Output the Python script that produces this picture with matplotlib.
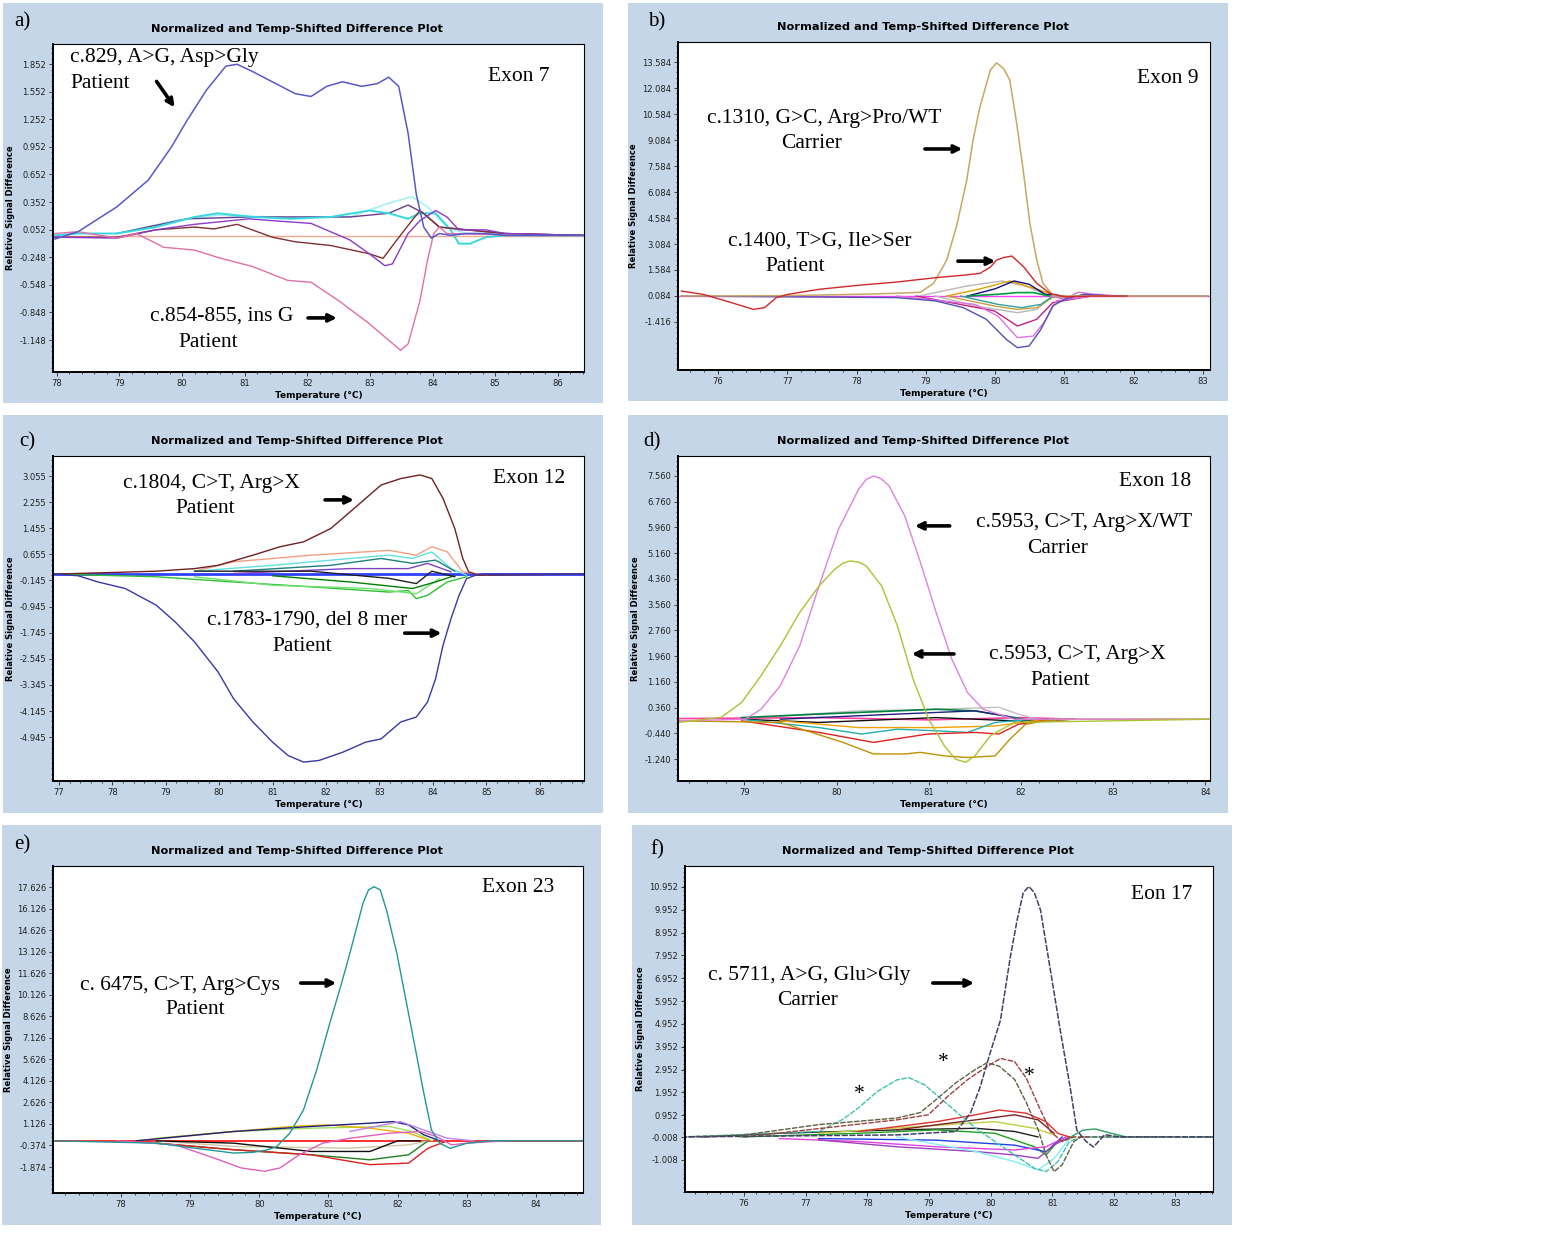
import matplotlib
matplotlib.use("Agg")
import matplotlib.pyplot as plt
from matplotlib.patches import Rectangle
from matplotlib.ticker import AutoMinorLocator

# ---------------- panel a : exon 7 ----------------
a_xticks = [78, 79, 80, 81, 82, 83, 84, 85, 86]
a_yticks = ["1.852", "1.552", "1.252", "0.952", "0.652", "0.352", "0.052",
            "-0.248", "-0.548", "-0.848", "-1.148"]
a_gly_t = [77.97, 78.34, 78.96, 79.46, 79.83, 80.08, 80.39, 80.70, 80.88, 81.13, 81.44, 81.81,
           82.06, 82.31, 82.56, 82.87, 83.12, 83.30, 83.46, 83.61, 83.74, 83.86, 83.98, 84.11,
           84.29, 84.54, 84.85, 85.16, 86.40]
a_gly_v = [-0.05, 0.03, 0.30, 0.59, 0.95, 1.24, 1.57, 1.83, 1.85, 1.77, 1.66, 1.53, 1.50, 1.61,
           1.66, 1.61, 1.64, 1.71, 1.61, 1.10, 0.44, 0.08, -0.04, 0.01, -0.01, 0.01, 0.01,
           -0.01, -0.01]
a_ins_t = [77.97, 78.34, 78.96, 79.27, 79.71, 80.20, 80.57, 81.13, 81.69, 82.06, 82.50, 82.99,
           83.30, 83.49, 83.61, 83.80, 83.92, 84.02, 84.11, 84.23, 85.47]
a_ins_v = [0.01, 0.03, -0.04, 0.01, -0.14, -0.17, -0.25, -0.35, -0.50, -0.52, -0.72, -0.97,
           -1.15, -1.26, -1.19, -0.72, -0.28, 0.01, 0.08, 0.01, -0.01]
a_brown_t = [77.97, 78.96, 79.58, 80.20, 80.51, 80.88, 81.44, 81.81, 82.37, 82.99, 83.21, 83.43,
             83.67, 83.80, 83.92, 84.11, 84.54, 85.16, 86.40]
a_brown_v = [-0.03, -0.03, 0.05, 0.08, 0.06, 0.11, -0.03, -0.08, -0.12, -0.21, -0.26, -0.06,
             0.15, 0.26, 0.19, 0.08, 0.05, 0.01, -0.01]
a_violet_t = [77.97, 78.96, 79.58, 80.20, 81.07, 81.44, 82.06, 82.68, 82.99, 83.24, 83.36, 83.61,
              83.80, 84.05, 84.23, 84.42, 84.85, 85.16, 86.40]
a_violet_v = [-0.03, -0.04, 0.05, 0.11, 0.17, 0.15, 0.12, -0.06, -0.21, -0.34, -0.32, 0.01,
              0.15, 0.26, 0.19, 0.05, 0.05, 0.01, -0.01]
a_cyan_t = [77.97, 78.34, 78.96, 79.58, 80.20, 80.57, 81.13, 81.75, 82.37, 82.99, 83.30, 83.61,
            83.80, 84.05, 84.29, 84.42, 84.60, 84.85, 85.16, 86.40]
a_cyan_v = [-0.01, 0.01, 0.01, 0.08, 0.19, 0.23, 0.19, 0.17, 0.19, 0.26, 0.23, 0.17, 0.23, 0.23,
            0.05, -0.10, -0.10, -0.03, -0.01, -0.01]
a_lcyan_t = [78.96, 79.89, 80.57, 81.44, 82.68, 83.30, 83.67, 83.92, 84.23, 84.54, 86.40]
a_lcyan_v = [0.01, 0.15, 0.21, 0.19, 0.19, 0.34, 0.41, 0.30, 0.08, 0.01, -0.01]
a_plum_t = [78.96, 80.08, 81.07, 82.68, 83.30, 83.61, 83.86, 84.11, 85.16, 86.40]
a_plum_v = [0.01, 0.17, 0.19, 0.19, 0.23, 0.32, 0.23, 0.08, 0.01, -0.01]
a_flat_t = [77.94, 86.42]
a_flat_v = [-0.02, -0.02]

# ---------------- panel b : exon 9 ----------------
b_xticks = [76, 77, 78, 79, 80, 81, 82, 83]
b_yticks = ["13.584", "12.084", "10.584", "9.084", "7.584", "6.084", "4.584", "3.084",
            "1.584", "0.084", "-1.416"]
b_pro_t = [75.47, 76.90, 78.02, 78.58, 78.92, 79.11, 79.30, 79.44, 79.59, 79.68, 79.78, 79.93,
           80.02, 80.12, 80.21, 80.31, 80.41, 80.50, 80.60, 80.69, 80.84, 81.00, 81.95, 83.07]
b_pro_v = [0.08, 0.10, 0.18, 0.24, 0.30, 0.81, 2.16, 4.08, 6.78, 9.08, 11.00, 13.12, 13.54,
           13.22, 12.55, 10.05, 7.16, 4.28, 2.16, 0.81, 0.10, 0.08, 0.08, 0.08]
b_ser_t = [75.47, 75.78, 76.11, 76.51, 76.67, 76.84, 77.01, 77.46, 78.02, 78.58, 79.14, 79.59,
           79.78, 79.93, 80.02, 80.12, 80.24, 80.41, 80.60, 80.79, 81.00, 81.39, 81.90]
b_ser_v = [0.37, 0.18, -0.20, -0.69, -0.59, -0.01, 0.18, 0.47, 0.70, 0.89, 1.14, 1.30,
           1.39, 1.75, 2.16, 2.30, 2.39, 1.77, 0.81, 0.24, 0.03, 0.08, 0.08]
b_blue_t = [75.47, 78.58, 79.14, 79.54, 79.87, 80.16, 80.32, 80.49, 80.66, 80.83, 81.00, 81.28,
            81.67, 83.07]
b_blue_v = [0.08, -0.01, -0.20, -0.59, -1.26, -2.42, -2.90, -2.80, -1.84, -0.49, -0.11, 0.18,
            0.08, 0.08]
b_pink_t = [78.58, 79.71, 80.04, 80.32, 80.55, 80.72, 80.88, 81.39]
b_pink_v = [0.08, -0.40, -1.08, -2.32, -2.23, -1.36, -0.20, 0.08]
b_mag_t = [78.86, 79.99, 80.32, 80.60, 80.83, 81.39]
b_mag_v = [0.08, -0.78, -1.65, -1.26, -0.30, 0.08]
b_graylo_t = [79.14, 79.71, 80.32, 80.60, 80.83, 81.20]
b_graylo_v = [0.08, -0.49, -0.88, -0.69, 0.08, 0.08]
b_grayhi_t = [78.90, 79.59, 80.10, 80.44, 80.72, 81.00]
b_grayhi_v = [0.08, 0.66, 0.95, 0.66, 0.18, 0.08]
b_goldlo_t = [79.30, 80.00, 80.32, 80.60, 80.83, 81.20]
b_goldlo_v = [0.08, -0.50, -0.69, -0.59, 0.00, 0.08]
b_goldhi_t = [79.30, 79.76, 80.21, 80.60, 80.90]
b_goldhi_v = [0.08, 0.47, 0.95, 0.47, 0.08]
b_teal_t = [79.50, 80.04, 80.38, 80.66, 80.83]
b_teal_v = [0.08, -0.40, -0.59, -0.40, 0.08]
b_navy_t = [79.60, 80.00, 80.27, 80.49, 80.72, 81.00]
b_navy_v = [0.08, 0.50, 0.95, 0.76, 0.18, 0.08]
b_green_t = [79.60, 80.10, 80.32, 80.55, 80.78]
b_green_v = [0.08, 0.20, 0.28, 0.28, 0.08]
b_violet_t = [80.80, 81.00, 81.20, 81.40, 81.80]
b_violet_v = [0.08, -0.10, 0.30, 0.20, 0.08]
b_base_t = [75.42, 83.10]
b_base_v = [0.084, 0.084]

# ---------------- panel c : exon 12 ----------------
c_xticks = [77, 78, 79, 80, 81, 82, 83, 84, 85, 86]
c_yticks = ["3.055", "2.255", "1.455", "0.655", "-0.145", "-0.945", "-1.745", "-2.545",
            "-3.345", "-4.145", "-4.945"]
c_del_t = [76.93, 77.36, 77.73, 78.24, 78.82, 79.18, 79.54, 79.98, 80.27, 80.63, 81.00, 81.29,
           81.58, 81.87, 82.31, 82.74, 83.03, 83.40, 83.69, 83.90, 84.05, 84.19, 84.34, 84.49,
           84.63, 84.85, 86.81]
c_del_v = [0.05, 0.00, -0.19, -0.39, -0.90, -1.42, -2.03, -2.95, -3.77, -4.48, -5.10, -5.51,
           -5.71, -5.66, -5.41, -5.10, -5.00, -4.48, -4.33, -3.87, -3.16, -2.13, -1.31, -0.60,
           -0.09, 0.05, 0.05]
c_argx_t = [76.93, 78.82, 79.54, 79.98, 80.63, 81.14, 81.58, 82.09, 82.60, 83.03, 83.40, 83.76,
            83.98, 84.19, 84.41, 84.56, 84.67, 84.85, 86.81]
c_argx_v = [0.05, 0.14, 0.22, 0.32, 0.63, 0.89, 1.04, 1.45, 2.17, 2.78, 2.98, 3.09, 2.98, 2.37,
            1.45, 0.53, 0.12, 0.02, 0.05]
c_salmon_t = [79.54, 80.27, 81.72, 83.18, 83.69, 83.98, 84.27, 84.56, 85.00]
c_salmon_v = [0.14, 0.43, 0.63, 0.78, 0.63, 0.89, 0.73, 0.12, 0.02]
c_cyan_t = [79.54, 81.00, 82.45, 83.18, 83.62, 83.98, 84.34, 84.63]
c_cyan_v = [0.14, 0.32, 0.53, 0.63, 0.53, 0.73, 0.22, 0.02]
c_teal_t = [80.27, 82.09, 83.03, 83.62, 84.05, 84.41]
c_teal_v = [0.14, 0.32, 0.53, 0.38, 0.48, 0.14]
c_purple_t = [80.27, 82.45, 83.54, 83.90, 84.34]
c_purple_v = [0.07, 0.22, 0.22, 0.38, 0.12]
c_green1_t = [76.93, 78.82, 80.27, 81.72, 83.18, 83.54, 83.69, 83.90, 84.27, 84.63]
c_green1_v = [0.05, -0.03, -0.19, -0.34, -0.50, -0.45, -0.70, -0.60, -0.19, -0.03]
c_green2_t = [79.54, 81.00, 82.82, 83.69, 84.12]
c_green2_v = [-0.03, -0.29, -0.39, -0.55, -0.09]
c_dkgreen_t = [81.00, 82.45, 83.62, 84.05, 84.40]
c_dkgreen_v = [0.00, -0.19, -0.39, -0.19, 0.00]
c_black_t = [79.54, 81.72, 83.18, 83.69, 83.98, 84.41]
c_black_v = [0.14, 0.14, -0.08, -0.24, 0.14, -0.03]
c_base_t = [76.89, 86.83]
c_base_v = [0.05, 0.05]

# ---------------- panel d : exon 18 ----------------
d_xticks = [79, 80, 81, 82, 83, 84]
d_yticks = ["7.560", "6.760", "5.960", "5.160", "4.360", "3.560", "2.760", "1.960", "1.160",
            "0.360", "-0.440", "-1.240"]
d_wt_t = [78.29, 79.01, 79.18, 79.39, 79.60, 79.81, 80.02, 80.24, 80.32, 80.40, 80.48, 80.57,
          80.74, 80.91, 81.08, 81.25, 81.42, 81.59, 81.93, 84.05]
d_wt_v = [-0.05, 0.00, 0.31, 1.04, 2.28, 4.14, 5.90, 7.15, 7.45, 7.56, 7.48, 7.25, 6.32, 4.87,
          3.32, 1.87, 0.83, 0.31, 0.00, 0.00]
d_pat_t = [78.29, 78.75, 78.97, 79.18, 79.39, 79.60, 79.81, 79.98, 80.07, 80.15, 80.24, 80.32,
           80.49, 80.66, 80.83, 81.00, 81.17, 81.29, 81.40, 81.50, 81.67, 81.93, 84.05]
d_pat_v = [-0.10, 0.06, 0.52, 1.35, 2.28, 3.32, 4.14, 4.66, 4.85, 4.92, 4.88, 4.77, 4.14, 2.90,
           1.25, 0.00, -0.83, -1.24, -1.34, -1.14, -0.51, -0.10, 0.00]
d_gold_t = [78.29, 79.39, 80.07, 80.40, 80.74, 80.91, 81.17, 81.42, 81.72, 81.88, 82.05, 82.35,
            84.05]
d_gold_v = [-0.05, -0.10, -0.72, -1.08, -1.08, -1.03, -1.14, -1.19, -1.14, -0.62, -0.16, 0.00,
            0.00]
d_red_t = [78.97, 79.81, 80.40, 80.99, 81.50, 81.76, 81.97, 82.35]
d_red_v = [-0.05, -0.41, -0.72, -0.46, -0.41, -0.46, -0.16, 0.00]
d_cyan_t = [78.97, 79.81, 80.27, 80.66, 81.08, 81.42, 81.72, 82.14]
d_cyan_v = [0.00, -0.26, -0.46, -0.31, -0.36, -0.41, -0.10, 0.00]
d_orange_t = [79.39, 80.24, 81.08, 81.72, 82.14, 82.60]
d_orange_v = [-0.05, -0.26, -0.26, -0.21, -0.05, 0.00]
d_gray_t = [79.39, 80.24, 81.08, 81.76, 81.97, 82.18, 82.60]
d_gray_v = [0.10, 0.26, 0.31, 0.37, 0.16, 0.00, 0.00]
d_green_t = [78.97, 79.81, 81.08, 81.50, 81.93, 82.14]
d_green_v = [0.05, 0.16, 0.31, 0.26, 0.05, -0.05]
d_black_t = [78.97, 79.81, 81.08, 81.93, 82.30]
d_black_v = [0.00, -0.10, 0.05, -0.05, 0.00]
d_navy_t = [79.39, 80.66, 81.50, 81.84, 82.05, 82.56]
d_navy_v = [0.00, 0.16, 0.26, 0.10, -0.10, 0.00]
d_mag_t = [78.30, 79.80, 81.00, 82.00, 82.60]
d_mag_v = [0.02, 0.05, -0.02, 0.05, 0.00]

# ---------------- panel e : exon 23 ----------------
e_xticks = [78, 79, 80, 81, 82, 83, 84]
e_yticks = ["17.626", "16.126", "14.626", "13.126", "11.626", "10.126", "8.626", "7.126",
            "5.626", "4.126", "2.626", "1.126", "-0.374", "-1.874"]
e_cys_t = [77.04, 78.51, 79.07, 79.63, 79.91, 80.10, 80.25, 80.44, 80.64, 80.83, 81.02, 81.19,
           81.31, 81.50, 81.58, 81.66, 81.75, 81.84, 81.99, 82.13, 82.27, 82.37, 82.49, 82.61,
           82.76, 83.00, 83.34, 84.68]
e_cys_v = [-0.05, -0.21, -0.56, -0.90, -0.85, -0.70, -0.46, 0.47, 2.10, 4.88, 8.13, 10.92,
           13.00, 16.49, 17.42, 17.65, 17.42, 16.02, 13.00, 9.53, 6.04, 3.49, 0.70, -0.22,
           -0.57, -0.22, -0.05, -0.05]
e_pink_t = [77.94, 78.79, 79.35, 79.74, 80.08, 80.30, 80.58, 80.92, 81.31, 81.88, 82.33, 82.56,
            82.78, 83.00, 83.56]
e_pink_v = [-0.05, -0.33, -1.25, -1.94, -2.17, -1.94, -1.02, -0.21, 0.13, 0.48, 0.60, 0.25,
            -0.33, -0.21, -0.05]
e_navy_t = [78.22, 79.63, 80.75, 81.60, 81.93, 82.16, 82.38, 82.61]
e_navy_v = [-0.05, 0.60, 0.95, 1.18, 1.29, 1.06, 0.37, -0.05]
e_orange_t = [78.22, 79.35, 80.47, 80.98, 81.60, 82.16, 82.44]
e_orange_v = [-0.05, 0.48, 0.95, 1.06, 0.83, 0.48, 0.02]
e_lgreen_t = [78.51, 79.63, 80.75, 81.88, 82.21, 82.50]
e_lgreen_v = [0.13, 0.60, 0.83, 0.95, 0.60, -0.05]
e_red_t = [78.51, 79.63, 80.75, 81.60, 82.16, 82.44, 82.72]
e_red_v = [-0.21, -0.67, -1.02, -1.71, -1.60, -0.56, -0.05]
e_dkgreen_t = [78.51, 79.63, 80.75, 81.60, 82.16, 82.44]
e_dkgreen_v = [-0.21, -0.67, -1.02, -1.37, -1.02, -0.05]
e_black_t = [78.51, 79.63, 80.75, 81.60, 82.00, 82.33]
e_black_v = [-0.05, -0.21, -0.79, -0.79, -0.05, -0.05]
e_beige_t = [78.51, 79.63, 81.31, 82.16, 82.44]
e_beige_v = [-0.05, -0.44, -0.56, -0.33, -0.05]
e_violet_t = [81.31, 82.04, 82.44, 82.72, 83.10]
e_violet_v = [0.60, 1.29, 0.60, 0.13, -0.05]
e_base_t = [77.02, 84.68]
e_base_v = [-0.05, -0.05]

# ---------------- panel f : exon 17 ----------------
f_xticks = [76, 77, 78, 79, 80, 81, 82, 83]
f_yticks = ["10.952", "9.952", "8.952", "7.952", "6.952", "5.952", "4.952", "3.952", "2.952",
            "1.952", "0.952", "-0.008", "-1.008"]
f_gly_t = [74.98, 78.48, 79.44, 79.67, 79.83, 79.99, 80.16, 80.32, 80.43, 80.53, 80.62, 80.71,
           80.81, 80.97, 81.13, 81.29, 81.40, 81.55, 81.67, 81.85, 82.10, 83.61]
f_gly_v = [0.00, 0.09, 0.24, 1.03, 2.19, 3.66, 5.12, 7.89, 9.50, 10.70, 10.97, 10.70, 9.94,
           7.31, 4.68, 2.19, 0.29, -0.20, -0.44, 0.10, 0.00, 0.00]
f_hump_t = [81.30, 81.50, 81.70, 81.90, 82.20]
f_hump_v = [0.00, 0.30, 0.35, 0.20, 0.00]
f_star1_t = [74.98, 77.21, 77.59, 77.85, 78.16, 78.48, 78.67, 78.93, 79.25, 79.50, 79.76, 80.07,
             80.39, 80.71, 80.90, 81.09, 81.28, 81.47, 83.61]
f_star1_v = [0.00, 0.24, 0.75, 1.26, 1.99, 2.50, 2.60, 2.28, 1.55, 0.97, 0.38, -0.20, -0.79,
             -1.37, -1.52, -1.08, -0.20, 0.00, 0.00]
f_star2_t = [74.98, 75.95, 77.21, 78.48, 78.86, 79.12, 79.44, 79.76, 79.94, 80.14, 80.39, 80.58,
             80.77, 80.90, 81.03, 81.16, 81.35, 81.47, 83.61]
f_star2_v = [0.00, 0.07, 0.54, 0.83, 1.07, 1.65, 2.38, 2.97, 3.25, 3.10, 2.52, 1.50, 0.33,
             -0.79, -1.52, -1.22, -0.20, 0.00, 0.00]
f_star3_t = [76.00, 78.48, 78.99, 79.31, 79.63, 79.95, 80.16, 80.39, 80.58, 80.77, 80.97, 81.16,
             81.35, 81.60]
f_star3_v = [0.00, 0.75, 0.97, 1.79, 2.52, 3.10, 3.44, 3.30, 2.57, 1.41, 0.24, -0.20, 0.00,
             0.00]
f_red_t = [77.85, 79.12, 79.76, 80.14, 80.58, 80.90, 81.09, 81.28]
f_red_v = [0.24, 0.67, 0.97, 1.18, 1.04, 0.67, 0.16, 0.00]
f_dkred_t = [78.48, 79.76, 80.39, 80.77, 81.03]
f_dkred_v = [0.31, 0.75, 0.97, 0.75, 0.16]
f_purple_t = [77.21, 78.48, 79.76, 80.39, 80.77, 81.03, 81.28]
f_purple_v = [-0.13, -0.43, -0.64, -0.79, -0.94, -0.35, 0.00]
f_mag_t = [76.57, 77.85, 79.12, 80.39, 80.90, 81.22]
f_mag_v = [-0.07, -0.20, -0.43, -0.57, -0.43, 0.00]
f_green_t = [75.95, 77.85, 79.12, 80.07, 80.71, 80.90, 81.09, 81.35]
f_green_v = [0.00, 0.16, 0.31, 0.16, -0.43, -0.79, -0.20, 0.00]
f_yellow_t = [77.21, 79.12, 80.07, 80.71, 81.03]
f_yellow_v = [0.16, 0.51, 0.67, 0.38, 0.09]
f_blue_t = [77.21, 79.12, 80.39, 80.90, 81.16]
f_blue_v = [-0.07, -0.14, -0.36, -0.65, 0.00]
f_lcyan_t = [78.48, 79.76, 80.39, 80.77, 81.03, 81.28]
f_lcyan_v = [0.00, -0.64, -1.08, -1.45, -0.94, -0.07]
f_black_t = [75.32, 76.57, 78.48, 79.76, 80.39, 80.77]
f_black_v = [0.00, 0.16, 0.31, 0.38, 0.24, 0.00]

TITLE = "Normalized and Temp-Shifted Difference Plot"
BG = "#c4d6e7"
SERIF = "Liberation Serif"

fig = plt.figure(figsize=(15.6, 12.48), dpi=100)


def make_panel(bg_rect, ax_rect, xlim, ylim, xticks, yticks, letter, letter_xy):
    fig.patches.append(Rectangle(bg_rect[:2], bg_rect[2], bg_rect[3], transform=fig.transFigure,
                                 facecolor=BG, edgecolor="none", zorder=-5))
    ax = fig.add_axes(ax_rect)
    ax.set_facecolor("white")
    ax.set_xlim(*xlim)
    ax.set_ylim(*ylim)
    ax.set_xticks(xticks)
    ax.set_xticklabels([str(t) for t in xticks])
    ax.set_yticks([float(t) for t in yticks])
    ax.set_yticklabels(yticks)
    ax.yaxis.set_minor_locator(AutoMinorLocator(5))
    ax.xaxis.set_minor_locator(AutoMinorLocator(5))
    ax.tick_params(which="major", length=3, width=0.6, pad=2, labelsize=6, colors="#222222")
    ax.tick_params(which="minor", length=1.5, width=0.5)
    for side in ["left", "bottom"]:
        ax.spines[side].set_linewidth(1.4)
    for side in ["top", "right"]:
        ax.spines[side].set_linewidth(0.8)
    ax.set_xlabel("Temperature (\u00b0C)", fontsize=6.5, fontweight="bold", labelpad=2)
    ax.set_ylabel("Relative Signal Difference", fontsize=6, fontweight="bold", labelpad=3)
    ax.text(0.46, 1.046, TITLE, transform=ax.transAxes, ha="center", va="center",
            fontsize=8.2, fontweight="bold")
    ax.text(letter_xy[0], letter_xy[1], letter, transform=ax.transAxes, ha="center",
            va="center", fontsize=15, family=SERIF)
    return ax


def label(ax, text, x, y, ha="center"):
    ax.text(x, y, text, transform=ax.transAxes, ha=ha, va="center", fontsize=15.5,
            family=SERIF, zorder=10)


def arrow(ax, start, end):
    ax.annotate("", xy=end, xytext=start, xycoords="axes fraction",
                arrowprops=dict(arrowstyle="->,head_length=0.45,head_width=0.22", lw=2.6,
                                color="black"), zorder=10)


# ---- a ----
ax = make_panel((0.0019, 0.677, 0.3846, 0.3205), (0.0340, 0.7019, 0.3404, 0.2628),
                (77.94, 86.42), (-1.496, 2.07), a_xticks, a_yticks, "a)", (-0.058, 1.067))
ax.plot(a_flat_t, a_flat_v, color="#f0a890", lw=1.0)
ax.plot(a_lcyan_t, a_lcyan_v, color="#a8f0f0", lw=1.2)
ax.plot(a_plum_t, a_plum_v, color="#6a3a8a", lw=1.0)
ax.plot(a_cyan_t, a_cyan_v, color="#38d8e0", lw=1.4)
ax.plot(a_brown_t, a_brown_v, color="#803030", lw=1.0)
ax.plot(a_violet_t, a_violet_v, color="#8a3cc8", lw=1.0)
ax.plot(a_ins_t, a_ins_v, color="#e070a8", lw=1.0)
ax.plot(a_gly_t, a_gly_v, color="#5858c8", lw=1.1)
label(ax, "c.829, A>G, Asp>Gly", 0.032, 0.960, ha="left")
label(ax, "Patient", 0.032, 0.881, ha="left")
arrow(ax, (0.192, 0.893), (0.232, 0.800))
label(ax, "Exon 7", 0.877, 0.902)
label(ax, "c.854-855, ins G", 0.183, 0.171, ha="left")
label(ax, "Patient", 0.292, 0.091)
arrow(ax, (0.475, 0.165), (0.540, 0.165))

# ---- b ----
ax = make_panel((0.4026, 0.6787, 0.3846, 0.3189), (0.4346, 0.7035, 0.3410, 0.2628),
                (75.42, 83.10), (-4.19, 14.74), b_xticks, b_yticks, "b)", (-0.041, 1.061))
ax.plot(b_base_t, b_base_v, color="#ff40ff", lw=1.0)
ax.plot(b_grayhi_t, b_grayhi_v, color="#b8b8b8", lw=1.0)
ax.plot(b_graylo_t, b_graylo_v, color="#b8b8b8", lw=1.0)
ax.plot(b_goldhi_t, b_goldhi_v, color="#e0a000", lw=1.0)
ax.plot(b_goldlo_t, b_goldlo_v, color="#c8a040", lw=1.0)
ax.plot(b_teal_t, b_teal_v, color="#30a0a0", lw=1.0)
ax.plot(b_navy_t, b_navy_v, color="#101070", lw=1.0)
ax.plot(b_green_t, b_green_v, color="#00a040", lw=1.2)
ax.plot(b_violet_t, b_violet_v, color="#d070e0", lw=1.0)
ax.plot(b_mag_t, b_mag_v, color="#c02080", lw=1.0)
ax.plot(b_pink_t, b_pink_v, color="#e070e0", lw=1.0)
ax.plot(b_blue_t, b_blue_v, color="#5050b8", lw=1.0)
ax.plot(b_pro_t, b_pro_v, color="#c8a860", lw=1.1)
ax.plot(b_ser_t, b_ser_v, color="#d02828", lw=1.0)
label(ax, "c.1310, G>C, Arg>Pro/WT", 0.274, 0.768)
label(ax, "Carrier", 0.252, 0.692)
arrow(ax, (0.459, 0.674), (0.540, 0.674))
label(ax, "Exon 9", 0.921, 0.890)
label(ax, "c.1400, T>G, Ile>Ser", 0.267, 0.393)
label(ax, "Patient", 0.220, 0.317)
arrow(ax, (0.521, 0.332), (0.602, 0.332))

# ---- c ----
ax = make_panel((0.0019, 0.3486, 0.3846, 0.3189), (0.0340, 0.3742, 0.3404, 0.2604),
                (76.89, 86.83), (-6.29, 3.67), c_xticks, c_yticks, "c)", (-0.049, 1.043))
ax.plot(c_base_t, c_base_v, color="#3040ff", lw=2.0)
ax.plot(c_salmon_t, c_salmon_v, color="#f0a080", lw=1.0)
ax.plot(c_cyan_t, c_cyan_v, color="#60e0e0", lw=1.0)
ax.plot(c_teal_t, c_teal_v, color="#208080", lw=1.0)
ax.plot(c_purple_t, c_purple_v, color="#8040c0", lw=1.0)
ax.plot(c_green1_t, c_green1_v, color="#30c030", lw=1.0)
ax.plot(c_green2_t, c_green2_v, color="#70e070", lw=1.0)
ax.plot(c_dkgreen_t, c_dkgreen_v, color="#008000", lw=1.0)
ax.plot(c_black_t, c_black_v, color="#202020", lw=1.0)
ax.plot(c_argx_t, c_argx_v, color="#702020", lw=1.0)
ax.plot(c_del_t, c_del_v, color="#3838a8", lw=1.0)
label(ax, "c.1804, C>T, Arg>X", 0.299, 0.914)
label(ax, "Patient", 0.286, 0.837)
arrow(ax, (0.507, 0.865), (0.572, 0.865))
label(ax, "Exon 12", 0.896, 0.932)
label(ax, "c.1783-1790, del 8 mer", 0.478, 0.495)
label(ax, "Patient", 0.469, 0.415)
arrow(ax, (0.657, 0.455), (0.737, 0.455))

# ---- d ----
ax = make_panel((0.4026, 0.3486, 0.3846, 0.3189), (0.4346, 0.3742, 0.3410, 0.2604),
                (78.28, 84.05), (-1.92, 8.18), d_xticks, d_yticks, "d)", (-0.049, 1.043))
ax.plot(d_mag_t, d_mag_v, color="#ff40a0", lw=1.2)
ax.plot(d_gray_t, d_gray_v, color="#c0c0c0", lw=1.0)
ax.plot(d_green_t, d_green_v, color="#008040", lw=1.2)
ax.plot(d_black_t, d_black_v, color="#101010", lw=1.0)
ax.plot(d_navy_t, d_navy_v, color="#202080", lw=1.0)
ax.plot(d_orange_t, d_orange_v, color="#f0a000", lw=1.0)
ax.plot(d_cyan_t, d_cyan_v, color="#20b0b0", lw=1.0)
ax.plot(d_red_t, d_red_v, color="#e02020", lw=1.0)
ax.plot(d_gold_t, d_gold_v, color="#c09000", lw=1.0)
ax.plot(d_wt_t, d_wt_v, color="#e080e0", lw=1.0)
ax.plot(d_pat_t, d_pat_v, color="#b0c030", lw=1.0)
label(ax, "Exon 18", 0.897, 0.923)
label(ax, "c.5953, C>T, Arg>X/WT", 0.763, 0.794)
label(ax, "Carrier", 0.714, 0.714)
arrow(ax, (0.516, 0.785), (0.440, 0.785))
label(ax, "c.5953, C>T, Arg>X", 0.750, 0.388)
label(ax, "Patient", 0.718, 0.308)
arrow(ax, (0.524, 0.391), (0.434, 0.391))

# ---- e ----
ax = make_panel((0.0013, 0.0184, 0.3840, 0.3205), (0.0340, 0.0441, 0.3397, 0.2620),
                (77.02, 84.68), (-3.68, 19.09), e_xticks, e_yticks, "e)", (-0.058, 1.064))
ax.plot(e_base_t, e_base_v, color="#ff3030", lw=1.4)
ax.plot(e_beige_t, e_beige_v, color="#d0c8a0", lw=1.0)
ax.plot(e_lgreen_t, e_lgreen_v, color="#a0e060", lw=1.0)
ax.plot(e_orange_t, e_orange_v, color="#f0b000", lw=1.0)
ax.plot(e_navy_t, e_navy_v, color="#202080", lw=1.0)
ax.plot(e_violet_t, e_violet_v, color="#c080f0", lw=1.0)
ax.plot(e_black_t, e_black_v, color="#101010", lw=1.0)
ax.plot(e_dkgreen_t, e_dkgreen_v, color="#208020", lw=1.0)
ax.plot(e_red_t, e_red_v, color="#e02020", lw=1.0)
ax.plot(e_pink_t, e_pink_v, color="#e060c0", lw=1.0)
ax.plot(e_cys_t, e_cys_v, color="#209898", lw=1.0)
label(ax, "Exon 23", 0.877, 0.933)
label(ax, "c. 6475, C>T, Arg>Cys", 0.240, 0.636)
label(ax, "Patient", 0.268, 0.560)
arrow(ax, (0.462, 0.642), (0.540, 0.642))

# ---- f ----
ax = make_panel((0.4051, 0.0184, 0.3846, 0.3205), (0.4391, 0.0449, 0.3385, 0.2612),
                (75.04, 83.61), (-2.41, 11.87), f_xticks, f_yticks, "f)", (-0.053, 1.049))
ax.plot(f_black_t, f_black_v, color="#202020", lw=1.0)
ax.plot(f_green_t, f_green_v, color="#20a020", lw=1.0)
ax.plot(f_yellow_t, f_yellow_v, color="#c0d040", lw=1.0)
ax.plot(f_blue_t, f_blue_v, color="#2040e0", lw=1.0)
ax.plot(f_mag_t, f_mag_v, color="#e040e0", lw=1.0)
ax.plot(f_purple_t, f_purple_v, color="#a040c0", lw=1.0)
ax.plot(f_lcyan_t, f_lcyan_v, color="#80f0f0", lw=1.0)
ax.plot(f_hump_t, f_hump_v, color="#30a060", lw=1.0)
ax.plot(f_red_t, f_red_v, color="#e03030", lw=1.0)
ax.plot(f_dkred_t, f_dkred_v, color="#802020", lw=1.0)
ax.plot(f_star1_t, f_star1_v, color="#40c0b0", lw=1.0, ls=(0, (4, 1)))
ax.plot(f_star2_t, f_star2_v, color="#606040", lw=1.0, ls=(0, (4, 1)))
ax.plot(f_star3_t, f_star3_v, color="#a04040", lw=1.0, ls=(0, (4, 1)))
ax.plot(f_gly_t, f_gly_v, color="#404068", lw=1.1, ls=(0, (4, 1)))
label(ax, "Eon 17", 0.902, 0.911)
label(ax, "c. 5711, A>G, Glu>Gly", 0.235, 0.663)
label(ax, "Carrier", 0.233, 0.586)
arrow(ax, (0.464, 0.641), (0.553, 0.641))
label(ax, "*", 0.330, 0.300)
label(ax, "*", 0.489, 0.398)
label(ax, "*", 0.653, 0.355)

fig.savefig("out.png", dpi=100)
